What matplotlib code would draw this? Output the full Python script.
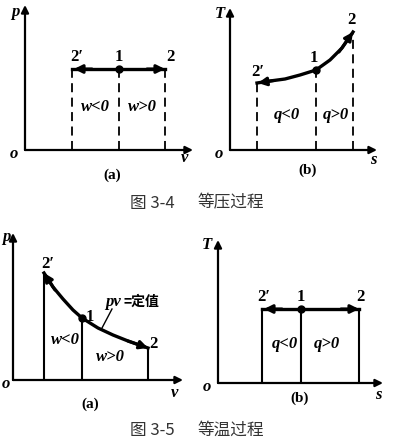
import matplotlib
matplotlib.use("Agg")
import matplotlib.pyplot as plt

FW, FH = 393, 440
fig = plt.figure(figsize=(FW / 100, FH / 100), dpi=100)

# ---- data (relative units) ----
# Fig 3-4 (a): isobaric p-v
v_a = [47, 94, 140]          # 2', 1, 2
p_a = 81
# Fig 3-4 (b): isobaric T-s curve
s_b = [27, 40, 55, 70, 86, 100, 112, 123]
T_b = [67, 69, 71, 75, 80, 90, 102, 118]
# Fig 3-5 (a): isothermal p-v curve
v_c = [31, 40, 50, 60, 69, 85, 100, 115, 135]
p_c = [107, 93, 81, 70, 62, 52, 45, 39, 32]
# Fig 3-5 (b): isothermal T-s
s_d = [44, 83, 141]
T_d = 74

point_labels = ["2\u2032", "1", "2"]
caption_nums = ["图 3-4", "图 3-5"]
caption_names = ["等压过程", "等温过程"]

SERIF = ["Liberation Serif", "DejaVu Serif"]
CJK = ["Noto Sans CJK SC", "DejaVu Sans"]


def panel(ox, oy, w, h, xl, yl, sub, odx=-11):
    ax = fig.add_axes([ox / FW, (FH - oy) / FH, (w + 12) / FW, (h + 10) / FH])
    ax.set_xlim(0, w + 12)
    ax.set_ylim(0, h + 10)
    ax.axis("off")
    ap = dict(arrowstyle="-|>", lw=1.6, color="k", mutation_scale=11,
              shrinkA=0, shrinkB=0)
    ax.annotate("", xy=(w, 0), xytext=(0, 0), arrowprops=ap, annotation_clip=False)
    ax.annotate("", xy=(0, h), xytext=(0, 0), arrowprops=ap, annotation_clip=False)
    tk = dict(family=SERIF, fontweight="bold", fontstyle="italic", fontsize=12,
              clip_on=False)
    ax.text(odx, -4, "o", ha="center", va="center", **tk)
    ax.text(yl[1], yl[2], yl[0], ha="center", va="center", **tk)
    ax.text(xl[1], xl[2], xl[0], ha="center", va="center", **tk)
    ax.text(sub[1], sub[2], sub[0], ha="center", va="center", family=SERIF,
            fontweight="bold", fontsize=11, clip_on=False)
    return ax


lab = dict(family=SERIF, fontweight="bold", fontsize=12, ha="center",
           va="center", clip_on=False)
ita = dict(family=SERIF, fontweight="bold", fontstyle="italic", fontsize=12,
           ha="center", va="center", clip_on=False)
arr = dict(arrowstyle="-|>", lw=2.2, color="k", mutation_scale=12,
           shrinkA=0, shrinkB=0)

# ---------- Fig 3-4 (a) ----------
ax = panel(25, 150, 168, 145, ("v", 160, -8), ("p", -10, 138), ("(a)", 87, -25))
for v in v_a:
    ax.plot([v, v], [0, p_a], ls=(0, (5, 3)), color="k", lw=1.3)
ax.plot([v_a[0], v_a[2]], [p_a, p_a], color="k", lw=2.4)
ax.annotate("", xy=(v_a[0] + 2, p_a), xytext=(v_a[0] + 20, p_a), arrowprops=arr)
ax.annotate("", xy=(v_a[2], p_a), xytext=(v_a[2] - 18, p_a), arrowprops=arr)
ax.plot([v_a[1]], [p_a], "o", color="k", ms=5)
for v, t in zip(v_a, point_labels):
    ax.text(v + (5 if t != "1" else 0), p_a + 12, t, **lab)
ax.text((v_a[0] + v_a[1]) / 2, 43, "w<0", **ita)
ax.text((v_a[1] + v_a[2]) / 2, 43, "w>0", **ita)

# ---------- Fig 3-4 (b) ----------
ax = panel(230, 150, 147, 142, ("s", 143, -10), ("T", -10, 136), ("(b)", 78, -20))
for s, t in zip([s_b[0], s_b[4], s_b[-1]], [T_b[0], T_b[4], T_b[-1]]):
    ax.plot([s, s], [0, t], ls=(0, (5, 3)), color="k", lw=1.3)
ax.plot(s_b, T_b, color="k", lw=2.4)
ax.annotate("", xy=(s_b[0] + 1, T_b[0]), xytext=(s_b[1] + 4, T_b[1] + 0.5), arrowprops=arr)
ax.annotate("", xy=(s_b[-1], T_b[-1]), xytext=(s_b[-2] - 3, T_b[-2] - 4), arrowprops=arr)
ax.plot([s_b[4]], [T_b[4]], "o", color="k", ms=5)
ax.text(s_b[0] + 1, T_b[0] + 11, point_labels[0], **lab)
ax.text(s_b[4] - 2, T_b[4] + 12, point_labels[1], **lab)
ax.text(s_b[-1] - 2, T_b[-1] + 12, point_labels[2], **lab)
ax.text(57, 35, "q<0", **ita)
ax.text(106, 35, "q>0", **ita)

# ---------- Fig 3-5 (a) ----------
ax = panel(13, 380, 170, 147, ("v", 162, -13), ("p", -7, 143), ("(a)", 77, -24), odx=-7)
for i in [0, 4, len(v_c) - 1]:
    ax.plot([v_c[i], v_c[i]], [0, p_c[i]], color="k", lw=1.5)
ax.plot(v_c, p_c, color="k", lw=2.4)
ax.annotate("", xy=(v_c[0], p_c[0]), xytext=(v_c[1] + 2, p_c[1] - 3), arrowprops=arr)
ax.annotate("", xy=(v_c[-1], p_c[-1]), xytext=(v_c[-2], p_c[-2]), arrowprops=arr)
ax.plot([v_c[4]], [p_c[4]], "o", color="k", ms=5)
ax.text(v_c[0] + 4, p_c[0] + 9, point_labels[0], **lab)
ax.text(v_c[4] + 8, p_c[4] + 1, point_labels[1], **lab)
ax.text(v_c[-1] + 5, p_c[-1] + 4, point_labels[2], **lab)
ax.plot([89, 99], [52, 71], color="k", lw=1.0)
ax.text(100, 78, "pv", **ita)
ax.text(110, 78, "=定值", family=CJK, fontweight="bold", fontsize=10,
        ha="left", va="center", clip_on=False)
ax.text(52, 40, "w<0", **ita)
ax.text(97, 23, "w>0", **ita)

# ---------- Fig 3-5 (b) ----------
ax = panel(218, 383, 165, 143, ("s", 160, -12), ("T", -11, 138), ("(b)", 82, -15))
for s in s_d:
    ax.plot([s, s], [0, T_d], color="k", lw=1.5)
ax.plot([s_d[0], s_d[2]], [T_d, T_d], color="k", lw=2.4)
ax.annotate("", xy=(s_d[0] + 2, T_d), xytext=(s_d[0] + 20, T_d), arrowprops=arr)
ax.annotate("", xy=(s_d[2], T_d), xytext=(s_d[2] - 18, T_d), arrowprops=arr)
ax.plot([s_d[1]], [T_d], "o", color="k", ms=5)
ax.text(s_d[0] + 2, T_d + 12, point_labels[0], **lab)
ax.text(s_d[1], T_d + 12, point_labels[1], **lab)
ax.text(s_d[2] + 1, T_d + 12, point_labels[2], **lab)
ax.text(67, 39, "q<0", **ita)
ax.text(109, 39, "q>0", **ita)

# ---------- captions ----------
for num, name, y in zip(caption_nums, caption_names, [203, 430]):
    fig.text(130 / FW, 1 - y / FH, num, family=CJK, fontsize=12,
             ha="left", va="center", color="#333333")
    fig.text(198 / FW, 1 - y / FH, name, family=CJK, fontsize=12,
             ha="left", va="center", color="#333333")

fig.savefig("out.png", dpi=100, facecolor="white")
